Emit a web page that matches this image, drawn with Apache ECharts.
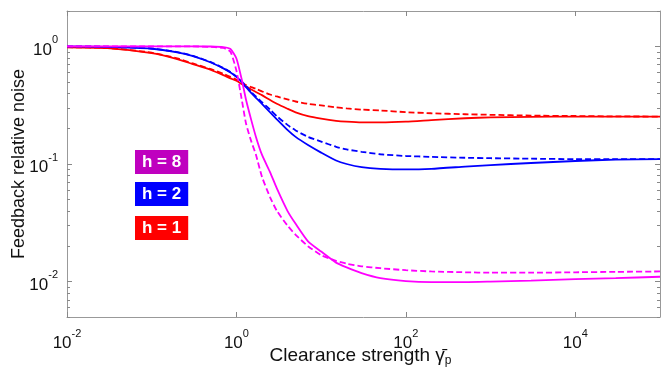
<!DOCTYPE html>
<html>
<head>
<meta charset="utf-8">
<script src="https://cdn.jsdelivr.net/npm/echarts@6/dist/echarts.min.js"></script>
<style>
  html, body { margin: 0; padding: 0; background: #fff; }
  #main { width: 661px; height: 371px; }
</style>
</head>
<body>
<div id="main"></div>
<script>
// clearance strength (x), shared by all curves
const gammaP = [0.01, 0.03, 0.1, 0.2, 0.3, 0.5, 0.7, 0.85, 1, 1.15, 1.3, 1.5, 1.7, 2, 2.5, 3, 4, 5, 7, 10, 15, 20, 30, 50, 100, 200, 500, 1000, 3000, 10000, 30000, 100000]

// h = 1 (red)
const h1Solid = [0.98, 0.965, 0.875, 0.78, 0.71, 0.63, 0.57, 0.535, 0.51, 0.48, 0.455, 0.43, 0.41, 0.385, 0.35, 0.325, 0.295, 0.275, 0.255, 0.243, 0.233, 0.229, 0.226, 0.226, 0.229, 0.236, 0.245, 0.249, 0.252, 0.253, 0.253, 0.253]
const h1Dashed = [0.985, 0.97, 0.885, 0.79, 0.72, 0.64, 0.585, 0.55, 0.52, 0.49, 0.47, 0.45, 0.435, 0.415, 0.39, 0.375, 0.355, 0.34, 0.325, 0.315, 0.303, 0.297, 0.29, 0.285, 0.276, 0.27, 0.265, 0.262, 0.258, 0.256, 0.254, 0.253]

// h = 2 (blue)
const h2Solid = [1.0, 0.99, 0.955, 0.89, 0.83, 0.73, 0.65, 0.60, 0.55, 0.50, 0.45, 0.40, 0.365, 0.325, 0.275, 0.24, 0.195, 0.17, 0.145, 0.125, 0.107, 0.10, 0.094, 0.091, 0.090, 0.091, 0.095, 0.098, 0.102, 0.106, 0.109, 0.11]
const h2Dashed = [1.0, 0.995, 0.96, 0.895, 0.835, 0.735, 0.655, 0.605, 0.555, 0.505, 0.46, 0.41, 0.375, 0.335, 0.29, 0.255, 0.215, 0.193, 0.17, 0.155, 0.14, 0.133, 0.127, 0.121, 0.117, 0.115, 0.113, 0.112, 0.111, 0.11, 0.11, 0.11]

// h = 8 (magenta)
const h8Solid = [1.0, 1.0, 1.0, 1.0, 1.0, 0.998, 0.985, 0.95, 0.79, 0.53, 0.35, 0.235, 0.17, 0.12, 0.085, 0.062, 0.040, 0.031, 0.022, 0.018, 0.0145, 0.0132, 0.0118, 0.0107, 0.0101, 0.0099, 0.0099, 0.0100, 0.0102, 0.0105, 0.0107, 0.011]
const h8Dashed = [1.0, 1.0, 1.0, 1.0, 1.0, 0.99, 0.97, 0.90, 0.62, 0.36, 0.22, 0.155, 0.12, 0.078, 0.052, 0.040, 0.030, 0.025, 0.020, 0.0168, 0.0150, 0.0142, 0.0135, 0.0130, 0.0125, 0.0122, 0.0120, 0.0119, 0.0119, 0.0120, 0.0121, 0.0122]

// ticks
const xTicks = [0.01, 1, 100, 10000]
const yTicks = [0.01, 0.1, 1]
const yMinorTicks = [0.005, 0.006, 0.007, 0.008, 0.009, 0.02, 0.03, 0.04, 0.05, 0.06, 0.07, 0.08, 0.09, 0.2, 0.3, 0.4, 0.5, 0.6, 0.7, 0.8, 0.9, 2]

const legendItems = [
  { text: 'h = 8', color: '#BF00BF', top: 150 },
  { text: 'h = 2', color: '#0000FF', top: 182 },
  { text: 'h = 1', color: '#FF0000', top: 216 }
]

const FONT = '"Liberation Sans", Arial, sans-serif'
const axisGray = '#999999'

const pow10 = (v) => '{b|10}{s|' + Math.round(Math.log10(v)) + '}'
const richLabel = {
  b: { fontSize: 17, fontFamily: FONT, color: '#111', verticalAlign: 'bottom', lineHeight: 24 },
  s: { fontSize: 11, fontFamily: FONT, color: '#111', verticalAlign: 'top', lineHeight: 14 }
}

const zip = (ys) => gammaP.map((x, i) => [x, ys[i]])

const line = (name, ys, color, dashed) => ({
  name: name,
  type: 'line',
  data: zip(ys),
  showSymbol: false,
  smooth: 0.2,
  lineStyle: { color: color, width: 1.8, type: dashed ? [6, 3] : 'solid' },
  itemStyle: { color: color },
  silent: true
})

const yAxisBase = (position, ticks, len, showLine) => ({
  type: 'log',
  logBase: 10,
  min: 0.005,
  max: 2,
  position: position,
  axisLine: { show: showLine, onZero: false, lineStyle: { color: axisGray, width: 1 } },
  axisTick: { show: true, inside: true, length: len, customValues: ticks, lineStyle: { color: '#888' } },
  axisLabel: { show: false },
  splitLine: { show: false },
  minorTick: { show: false }
})

const chart = echarts.init(document.getElementById('main'))

const option = {
  animation: false,
  backgroundColor: '#ffffff',
  title: legendItems.map((it) => ({
    text: it.text,
    left: 135,
    top: it.top,
    backgroundColor: it.color,
    padding: [3, 7, 2, 7],
    itemGap: 0,
    textStyle: { color: '#ffffff', fontWeight: 'bold', fontSize: 17, fontFamily: FONT, lineHeight: 19 }
  })),
  grid: { left: 67, right: 1, top: 11, bottom: 54, containLabel: false, outerBoundsMode: 'none' },
  xAxis: [{
    type: 'log',
    logBase: 10,
    min: 0.01,
    max: 100000,
    position: 'bottom',
    name: 'Clearance strength {g|γ̄}{p|p}',
    nameLocation: 'middle',
    nameGap: 28,
    nameMoveOverlap: false,
    nameTextStyle: {
      fontSize: 19, fontFamily: FONT, color: '#111', padding: [0, 6, 0, 0],
      rich: {
        g: { fontSize: 19, fontFamily: FONT, color: '#111' },
        p: { fontSize: 12, fontFamily: FONT, color: '#111', verticalAlign: 'bottom', padding: [10, 0, 0, 0] }
      }
    },
    axisLine: { show: true, onZero: false, lineStyle: { color: axisGray, width: 1 } },
    axisTick: { show: true, inside: true, length: 5, customValues: xTicks, lineStyle: { color: '#888' } },
    axisLabel: { show: true, customValues: xTicks, margin: 11, formatter: pow10, rich: richLabel },
    splitLine: { show: false }
  }, {
    type: 'log',
    logBase: 10,
    min: 0.01,
    max: 100000,
    position: 'top',
    axisLine: { show: true, onZero: false, lineStyle: { color: axisGray, width: 1 } },
    axisTick: { show: true, inside: true, length: 5, customValues: xTicks, lineStyle: { color: '#888' } },
    axisLabel: { show: false },
    splitLine: { show: false }
  }],
  yAxis: [
    Object.assign(yAxisBase('left', yTicks, 5, true), {
      name: 'Feedback relative noise',
      nameLocation: 'middle',
      nameGap: 39,
      nameMoveOverlap: false,
      nameTextStyle: { fontSize: 18, fontFamily: FONT, color: '#111' },
      axisLabel: { show: true, customValues: yTicks, margin: 9, formatter: pow10, rich: richLabel }
    }),
    yAxisBase('right', yTicks, 5, true),
    yAxisBase('left', yMinorTicks, 3, false),
    yAxisBase('right', yMinorTicks, 3, false)
  ],
  series: [
    line('h=1 solid', h1Solid, '#FF0000', false),
    line('h=1 dashed', h1Dashed, '#FF0000', true),
    line('h=2 solid', h2Solid, '#0000FF', false),
    line('h=2 dashed', h2Dashed, '#0000FF', true),
    line('h=8 solid', h8Solid, '#FF00FF', false),
    line('h=8 dashed', h8Dashed, '#FF00FF', true)
  ]
}

chart.setOption(option, true)
</script>
</body>
</html>
